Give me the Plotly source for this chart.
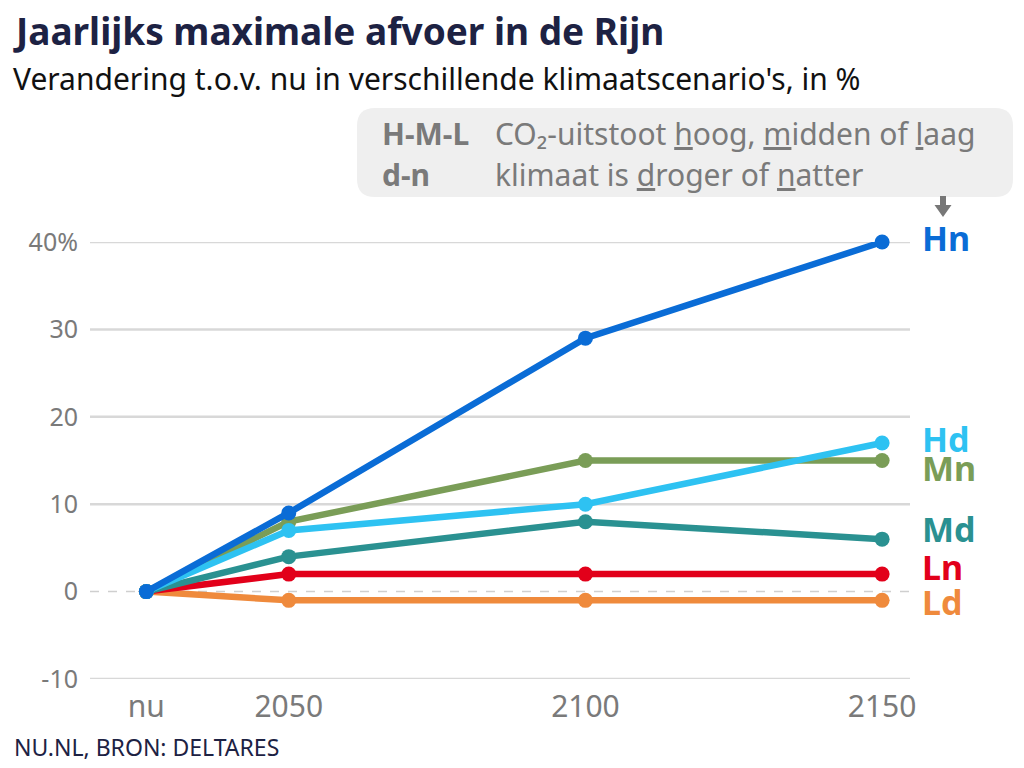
import plotly.graph_objects as go

# ---- data ----
periods = ["nu", "2050", "2100", "2150"]
period_x = [2026, 2050, 2100, 2150]
scenarios = ["Ld", "Ln", "Md", "Mn", "Hd", "Hn"]
Hn = [0, 9, 29, 40]
Hd = [0, 7, 10, 17]
Mn = [0, 8, 15, 15]
Md = [0, 4, 8, 6]
Ln = [0, 2, 2, 2]
Ld = [0, -1, -1, -1]
series = {"Ld": Ld, "Ln": Ln, "Md": Md, "Mn": Mn, "Hd": Hd, "Hn": Hn}
y_ticks = [-10, 0, 10, 20, 30, 40]
y_tick_text = ["-10", "0", "10", "20", "30", "40%"]

# ---- styles ----
colors = {"Hn": "#0a6cd6", "Hd": "#2ec2f2", "Mn": "#7a9d57", "Md": "#2a9191",
          "Ln": "#e2001a", "Ld": "#ef8a3c"}
label_shift = {"Hn": 4, "Hd": 4, "Mn": -7, "Md": 10, "Ln": 7, "Ld": -2}
FONT = "Noto Sans"
W, H = 1024, 768
L, R, T, B = 90, 910, 242, 679


def px(xp):
    return (xp - L) / (R - L)


def py(yp):
    return (B - yp) / (B - T)


fig = go.Figure()

for name in scenarios:
    fig.add_trace(go.Scatter(
        x=period_x, y=series[name], mode="lines+markers", name=name,
        line=dict(color=colors[name], width=6.5),
        marker=dict(color=colors[name], size=15),
        cliponaxis=False, showlegend=False, hoverinfo="skip"))

annotations = []
for name in scenarios:
    annotations.append(dict(
        x=1, xref="paper", y=series[name][-1], yref="y", xshift=10, yshift=label_shift[name],
        text=f"<b>{name}</b>", showarrow=False, xanchor="left", yanchor="middle",
        font=dict(family=FONT, size=34, color=colors[name])))

# title, subtitle, source
annotations += [
    dict(x=px(11), y=py(31), xref="paper", yref="paper", xanchor="left", yanchor="middle",
         text="<b>Jaarlijks maximale afvoer in de Rijn</b>", showarrow=False,
         font=dict(family=FONT, size=37, color="#1d2243")),
    dict(x=px(11), y=py(78), xref="paper", yref="paper", xanchor="left", yanchor="middle",
         text="Verandering t.o.v. nu in verschillende klimaatscenario's, in %", showarrow=False,
         font=dict(family=FONT, size=30, color="#111111")),
    dict(x=px(12), y=py(747), xref="paper", yref="paper", xanchor="left", yanchor="middle",
         text="NU.NL, BRON: DELTARES", showarrow=False,
         font=dict(family=FONT, size=23, color="#1d2243")),
]

# explanation box
legend_font = dict(family=FONT, size=30, color="#7a7a7a")
annotations += [
    dict(x=px(380), y=py(133), xref="paper", yref="paper", xanchor="left", yanchor="middle",
         text="<b>H-M-L</b>", showarrow=False, font=legend_font),
    dict(x=px(380), y=py(174), xref="paper", yref="paper", xanchor="left", yanchor="middle",
         text="<b>d-n</b>", showarrow=False, font=legend_font),
    dict(x=px(493), y=py(133), xref="paper", yref="paper", xanchor="left", yanchor="middle",
         text="CO₂-uitstoot <u>h</u>oog, <u>m</u>idden of <u>l</u>aag", showarrow=False, font=legend_font),
    dict(x=px(493), y=py(174), xref="paper", yref="paper", xanchor="left", yanchor="middle",
         text="klimaat is <u>d</u>roger of <u>n</u>atter", showarrow=False, font=legend_font),
]

# rounded box path
x0, x1, y0, y1, r = 357, 1013, 108, 197, 18


def P(a, b):
    return f"{px(a)},{py(b)}"


path = (f"M {P(x0 + r, y0)} L {P(x1 - r, y0)} Q {P(x1, y0)} {P(x1, y0 + r)} "
        f"L {P(x1, y1 - r)} Q {P(x1, y1)} {P(x1 - r, y1)} L {P(x0 + r, y1)} "
        f"Q {P(x0, y1)} {P(x0, y1 - r)} L {P(x0, y0 + r)} Q {P(x0, y0)} {P(x0 + r, y0)} Z")
arrow = (f"M {P(940, 196)} L {P(946, 196)} L {P(946, 205)} L {P(951.5, 205)} "
         f"L {P(943, 217)} L {P(934.5, 205)} L {P(940, 205)} Z")

shapes = [
    dict(type="path", path=path, xref="paper", yref="paper", fillcolor="#efefef",
         line=dict(width=0), layer="below"),
    dict(type="path", path=arrow, xref="paper", yref="paper", fillcolor="#777777",
         line=dict(width=0)),
    dict(type="line", xref="paper", x0=0, x1=1, yref="y", y0=0, y1=0,
         line=dict(color="#cfcfcf", width=1.5, dash="dash"), layer="below"),
]

fig.update_layout(
    width=W, height=H,
    margin=dict(l=L, r=W - R, t=T, b=H - B, pad=0),
    paper_bgcolor="white", plot_bgcolor="white",
    annotations=annotations, shapes=shapes,
    xaxis=dict(range=[2016.5, 2154.7], tickvals=period_x, ticktext=periods,
               showgrid=False, zeroline=False, showline=False, ticks="",
               ticklabelstandoff=7,
               tickfont=dict(family=FONT, size=30, color="#7a7a7a"), fixedrange=True),
    yaxis=dict(range=[-10, 40], tickvals=y_ticks, ticktext=y_tick_text,
               showgrid=False, zeroline=False, showline=False, ticks="",
               ticklabelstandoff=11,
               tickfont=dict(family=FONT, size=25, color="#7a7a7a"), fixedrange=True),
)

# gridlines (except at 0, which is dashed)
for v in y_ticks:
    if v != 0:
        fig.add_shape(type="line", xref="paper", x0=0, x1=1, yref="y", y0=v, y1=v,
                      line=dict(color="#d8d8d8", width=2.5), layer="below")

fig.write_html("out.html", config={"displayModeBar": False},
               post_script="document.body.style.margin='0';document.body.style.overflow='hidden';")
